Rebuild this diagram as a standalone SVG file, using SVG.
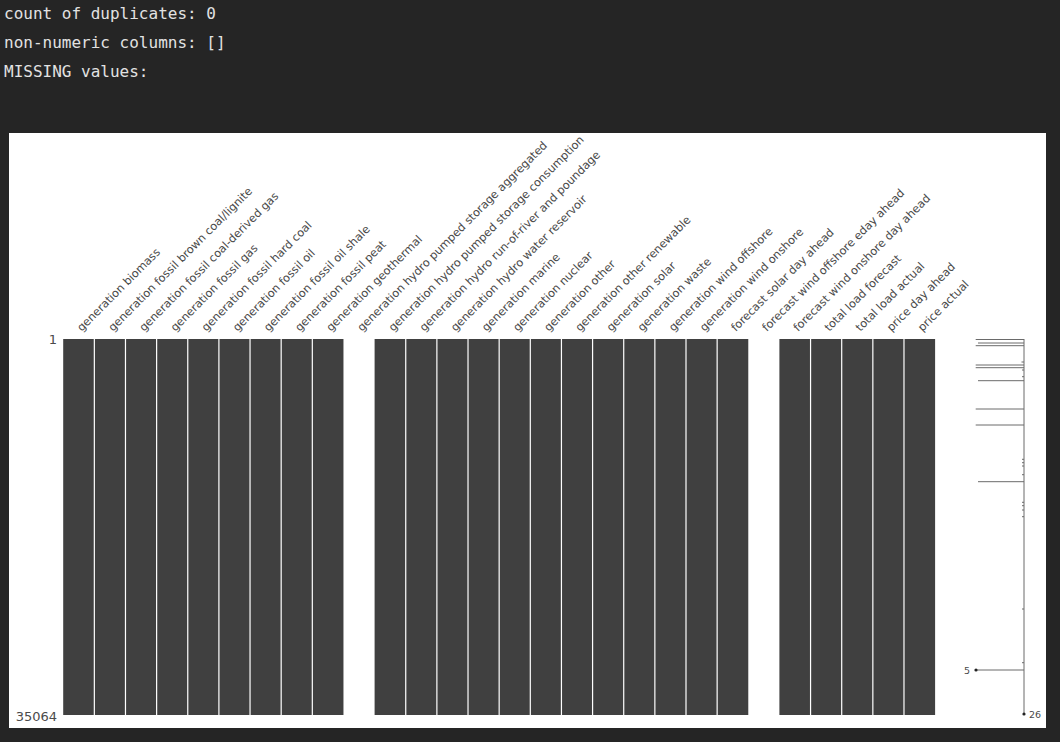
<svg xmlns="http://www.w3.org/2000/svg" width="1060" height="742" viewBox="0 0 1060 742">
<style>
.hdr{font-family:"DejaVu Sans Mono","Liberation Mono",monospace;font-size:16px;fill:#e2e2e2}
.lbl{font-family:"DejaVu Sans","Liberation Sans",sans-serif;font-size:11.3px;fill:#4a4a4a}
.ax{font-family:"DejaVu Sans","Liberation Sans",sans-serif;font-size:13px;fill:#4a4a4a}
.sp{font-family:"DejaVu Sans","Liberation Sans",sans-serif;font-size:9.5px;fill:#4a4a4a}
.blk{fill:#404040}
.sep{stroke:#ffffff;stroke-width:1.2}
.spk{stroke:#6a6a6a;stroke-width:1;fill:none}
</style>
<rect x="0" y="0" width="1060" height="742" fill="#252525"/>
<g id="header">
<text class="hdr" x="4" y="19">count of duplicates: 0</text>
<text class="hdr" x="4" y="48">non-numeric columns: []</text>
<text class="hdr" x="4" y="77">MISSING values:</text>
</g>
<rect id="panel" x="9" y="133" width="1037" height="595" fill="#ffffff"/>
<g id="matrix">
<rect class="blk" x="63.2" y="339" width="280.26" height="376"/>
<rect class="blk" x="374.6" y="339" width="373.68" height="376"/>
<rect class="blk" x="779.4" y="339" width="155.7" height="376"/>
<g id="separators">
<line class="sep" x1="94.34" y1="339" x2="94.34" y2="715"/>
<line class="sep" x1="125.48" y1="339" x2="125.48" y2="715"/>
<line class="sep" x1="156.62" y1="339" x2="156.62" y2="715"/>
<line class="sep" x1="187.76" y1="339" x2="187.76" y2="715"/>
<line class="sep" x1="218.9" y1="339" x2="218.9" y2="715"/>
<line class="sep" x1="250.04" y1="339" x2="250.04" y2="715"/>
<line class="sep" x1="281.18" y1="339" x2="281.18" y2="715"/>
<line class="sep" x1="312.32" y1="339" x2="312.32" y2="715"/>
<line class="sep" x1="405.74" y1="339" x2="405.74" y2="715"/>
<line class="sep" x1="436.88" y1="339" x2="436.88" y2="715"/>
<line class="sep" x1="468.02" y1="339" x2="468.02" y2="715"/>
<line class="sep" x1="499.16" y1="339" x2="499.16" y2="715"/>
<line class="sep" x1="530.3" y1="339" x2="530.3" y2="715"/>
<line class="sep" x1="561.44" y1="339" x2="561.44" y2="715"/>
<line class="sep" x1="592.58" y1="339" x2="592.58" y2="715"/>
<line class="sep" x1="623.72" y1="339" x2="623.72" y2="715"/>
<line class="sep" x1="654.86" y1="339" x2="654.86" y2="715"/>
<line class="sep" x1="686" y1="339" x2="686" y2="715"/>
<line class="sep" x1="717.14" y1="339" x2="717.14" y2="715"/>
<line class="sep" x1="810.56" y1="339" x2="810.56" y2="715"/>
<line class="sep" x1="841.7" y1="339" x2="841.7" y2="715"/>
<line class="sep" x1="872.84" y1="339" x2="872.84" y2="715"/>
<line class="sep" x1="903.98" y1="339" x2="903.98" y2="715"/>
</g>
</g>
<g id="row-labels">
<text class="ax" x="57" y="344" text-anchor="end">1</text>
<text class="ax" x="57" y="721" text-anchor="end">35064</text>
</g>
<g id="column-labels">
<text class="lbl" transform="translate(81.77,332) rotate(-45)">generation biomass</text>
<text class="lbl" transform="translate(112.91,332) rotate(-45)">generation fossil brown coal/lignite</text>
<text class="lbl" transform="translate(144.05,332) rotate(-45)">generation fossil coal-derived gas</text>
<text class="lbl" transform="translate(175.19,332) rotate(-45)">generation fossil gas</text>
<text class="lbl" transform="translate(206.33,332) rotate(-45)">generation fossil hard coal</text>
<text class="lbl" transform="translate(237.47,332) rotate(-45)">generation fossil oil</text>
<text class="lbl" transform="translate(268.61,332) rotate(-45)">generation fossil oil shale</text>
<text class="lbl" transform="translate(299.75,332) rotate(-45)">generation fossil peat</text>
<text class="lbl" transform="translate(330.89,332) rotate(-45)">generation geothermal</text>
<text class="lbl" transform="translate(362.03,332) rotate(-45)">generation hydro pumped storage aggregated</text>
<text class="lbl" transform="translate(393.17,332) rotate(-45)">generation hydro pumped storage consumption</text>
<text class="lbl" transform="translate(424.31,332) rotate(-45)">generation hydro run-of-river and poundage</text>
<text class="lbl" transform="translate(455.45,332) rotate(-45)">generation hydro water reservoir</text>
<text class="lbl" transform="translate(486.59,332) rotate(-45)">generation marine</text>
<text class="lbl" transform="translate(517.73,332) rotate(-45)">generation nuclear</text>
<text class="lbl" transform="translate(548.87,332) rotate(-45)">generation other</text>
<text class="lbl" transform="translate(580.01,332) rotate(-45)">generation other renewable</text>
<text class="lbl" transform="translate(611.15,332) rotate(-45)">generation solar</text>
<text class="lbl" transform="translate(642.29,332) rotate(-45)">generation waste</text>
<text class="lbl" transform="translate(673.43,332) rotate(-45)">generation wind offshore</text>
<text class="lbl" transform="translate(704.57,332) rotate(-45)">generation wind onshore</text>
<text class="lbl" transform="translate(735.71,332) rotate(-45)">forecast solar day ahead</text>
<text class="lbl" transform="translate(766.85,332) rotate(-45)">forecast wind offshore eday ahead</text>
<text class="lbl" transform="translate(797.99,332) rotate(-45)">forecast wind onshore day ahead</text>
<text class="lbl" transform="translate(829.13,332) rotate(-45)">total load forecast</text>
<text class="lbl" transform="translate(860.27,332) rotate(-45)">total load actual</text>
<text class="lbl" transform="translate(891.41,332) rotate(-45)">price day ahead</text>
<text class="lbl" transform="translate(922.55,332) rotate(-45)">price actual</text>
</g>
<g id="sparkline">
<line class="spk" x1="1024" y1="339" x2="1024" y2="714"/>
<path class="spk" d="M975.7 339.5H1024M978 343H1024M975.7 345.7H1024M1021.5 362H1024M975.7 365H1024M975.7 367.7H1024M1022 370H1024M1022 376.7H1024M978 380.7H1024M975.7 409H1024M975.7 425H1024M1022 459.3H1024M1022 462.7H1024M1022 466H1024M1022 474.7H1024M978 481.7H1024M1022 502.3H1024M1022 505.7H1024M1022 510H1024M1022 516.7H1024M1022 609H1024M1022 662.7H1024M976 670H1024"/>
<circle cx="976" cy="670" r="1.6" fill="#222"/>
<circle cx="1024" cy="714" r="1.6" fill="#222"/>
<text class="sp" x="970" y="673.5" text-anchor="end">5</text>
<text class="sp" x="1029" y="717.5">26</text>
</g>
</svg>
